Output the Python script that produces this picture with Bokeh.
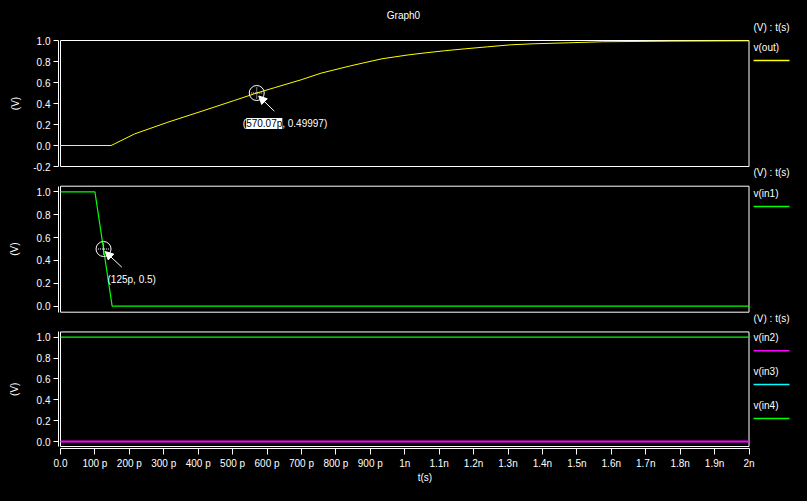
from bokeh.plotting import figure
from bokeh.layouts import column
from bokeh.models import (FixedTicker, Label, Arrow, NormalHead, PrintfTickFormatter,
                          Range1d, LinearAxis)
from bokeh.embed import file_html
from bokeh.resources import INLINE

# ---------------- data (time in ps, voltage in V) ----------------
t_out = [0, 147, 157, 215, 312, 408, 505, 570, 621, 699, 757, 843, 882, 934,
         1013, 1062, 1115, 1176, 1241, 1308, 1376, 1475, 1574, 1776, 2000]
v_out = [0.0, 0.0, 0.016, 0.11, 0.222, 0.324, 0.429, 0.5, 0.55, 0.626, 0.689, 0.759,
         0.788, 0.826, 0.864, 0.883, 0.902, 0.921, 0.94, 0.959, 0.969, 0.978, 0.988, 0.994, 0.997]
t_in1 = [0, 100, 150, 2000]
v_in1 = [1.0, 1.0, 0.0, 0.0]
t_flat = [0, 2000]
v_in2 = [0.0, 0.0]
v_in3 = [0.0, 0.0]
v_in4 = [1.0, 1.0]

x_ticks = [0, 100, 200, 300, 400, 500, 600, 700, 800, 900, 1000,
           1100, 1200, 1300, 1400, 1500, 1600, 1700, 1800, 1900, 2000]
x_tick_labels = ["0.0", "100 p", "200 p", "300 p", "400 p", "500 p", "600 p", "700 p",
                 "800 p", "900 p", "1n", "1.1n", "1.2n", "1.3n", "1.4n", "1.5n", "1.6n",
                 "1.7n", "1.8n", "1.9n", "2n"]
x_min, x_max = 0, 2000
y_ticks_top = [-0.2, 0.0, 0.2, 0.4, 0.6, 0.8, 1.0]
y_ticks = [0.0, 0.2, 0.4, 0.6, 0.8, 1.0]

marker1_x, marker1_y, marker1_text, marker1_hl = 570.07, 0.49997, "(570.07p, 0.49997)", "570.07p"
marker2_x, marker2_y, marker2_text = 125, 0.5, "(125p, 0.5)"

FONT = "Liberation Sans"
FS = "10px"
W = 791
# horizontal geometry (pixels)
FRAME_L = 58
X0_PX = 60.0
X1_PX = 748.5
PPX = (X1_PX - X0_PX) / (x_max - x_min)
X_START = x_min - (X0_PX - FRAME_L) / PPX
X_END = x_max + (W - X1_PX) / PPX
LEG_SX = 753 - FRAME_L


def panel(fig_top, fig_bottom, frame_bottom, px_one, px_zero, box_px, yticks,
          axis_bounds, show_x, v_standoff):
    ppy = px_zero - px_one
    y_start = -(frame_bottom - px_zero) / ppy
    y_end = 1.0 + (px_one - fig_top) / ppy
    p = figure(width=W, height=fig_bottom - fig_top,
               x_range=Range1d(X_START, X_END), y_range=Range1d(y_start, y_end),
               output_backend="svg", toolbar_location=None,
               min_border_left=FRAME_L, min_border_right=0, min_border_top=0,
               min_border_bottom=fig_bottom - frame_bottom,
               x_axis_location="below" if show_x else None,
               background_fill_color="black", border_fill_color="black",
               outline_line_color=None)
    p.grid.visible = False
    ya = p.yaxis[0]
    ya.ticker = FixedTicker(ticks=yticks)
    ya.formatter = PrintfTickFormatter(format="%.1f")
    ya.bounds = axis_bounds
    ya.axis_line_color = "white"
    ya.major_tick_line_color = "white"
    ya.minor_tick_line_color = None
    ya.major_tick_in = 0
    ya.major_tick_out = 5
    ya.major_label_standoff = 3
    ya.major_label_text_color = "white"
    ya.major_label_text_font = FONT
    ya.major_label_text_font_size = FS
    # "(V)" as the single label of an outer, line-less axis
    box_bot = (px_zero - box_px[1]) / ppy
    box_top = (px_zero - box_px[0]) / ppy
    mid = (box_bot + box_top) / 2
    va = LinearAxis(ticker=FixedTicker(ticks=[mid]), major_label_overrides={mid: "(V)"},
                    axis_line_color=None, major_tick_line_color=None,
                    minor_tick_line_color=None, major_tick_in=0, major_tick_out=0,
                    major_label_standoff=v_standoff, major_label_orientation="vertical",
                    major_label_text_color="white", major_label_text_font=FONT,
                    major_label_text_font_size=FS)
    p.add_layout(va, "left")
    # the panel box
    p.quad(left=[x_min], right=[x_max], bottom=[box_bot], top=[box_top],
           fill_color=None, line_color="white", line_width=1)
    if show_x:
        xa = p.xaxis[0]
        xa.ticker = FixedTicker(ticks=x_ticks)
        xa.major_label_overrides = {t: l for t, l in zip(x_ticks, x_tick_labels)}
        xa.bounds = (x_min, x_max)
        xa.axis_line_color = "white"
        xa.major_tick_line_color = "white"
        xa.minor_tick_line_color = None
        xa.major_tick_in = 0
        xa.major_tick_out = 6
        xa.major_label_standoff = 3
        xa.major_label_text_color = "white"
        xa.major_label_text_font = FONT
        xa.major_label_text_font_size = FS
        xa.axis_label = "t(s)"
        xa.axis_label_text_color = "white"
        xa.axis_label_text_font = FONT
        xa.axis_label_text_font_size = FS
        xa.axis_label_text_font_style = "normal"
        xa.axis_label_standoff = 0
    p._ppy = ppy
    p._fb = frame_bottom
    return p


def txt(p, px, py, text, align="left"):
    p.add_layout(Label(x=px - FRAME_L, y=p._fb - py, x_units="screen", y_units="screen",
                       text=text, text_color="white", text_font=FONT, text_font_size=FS,
                       text_align=align, text_baseline="middle"))


def leg_line(p, py, color):
    p.add_layout(Arrow(x_start=LEG_SX, y_start=p._fb - py, x_end=W - FRAME_L - 2,
                       y_end=p._fb - py, start_units="screen", end_units="screen",
                       start=None, end=None, line_color=color, line_width=1.5))


def marker(p, mx, my, text, tdx, tdy, tail, head):
    ppy = p._ppy
    p.scatter([mx], [my], marker="circle", size=15, fill_color=None,
              line_color="white", line_width=1)
    p.scatter([mx], [my], marker="cross", size=11, line_color="white",
              line_width=1, line_dash="1 1")
    p.add_layout(Arrow(x_start=mx + tail[0] / PPX, y_start=my - tail[1] / ppy,
                       x_end=mx + head[0] / PPX, y_end=my - head[1] / ppy,
                       end=NormalHead(size=8, fill_color="white", line_color="white"),
                       line_color="white", line_width=1))
    p.add_layout(Label(x=mx, y=my, x_offset=tdx, y_offset=tdy, text=text,
                       text_color="white", text_font=FONT, text_font_size=FS,
                       text_baseline="middle"))


# ---------------- panel 1 (its canvas also carries panel 2's header) ----------------
p1 = panel(0, 183, 183, 40.0, 145.0, (40.0, 166.0), y_ticks_top, (-0.2, 1.0), False, 10)
p1.line(t_out, v_out, line_color="#ffff00", line_width=1)
marker(p1, marker1_x, marker1_y, marker1_text, -14, -30.5, (17.6, 18.2), (2.0, 3.0))
p1.add_layout(Label(x=marker1_x, y=marker1_y, x_offset=-10.6, y_offset=-30.5,
                    text=marker1_hl, text_color="black", text_font=FONT,
                    text_font_size=FS, text_baseline="middle",
                    background_fill_color="white", padding=0))
txt(p1, 403, 15, "Graph0", align="center")
txt(p1, 753, 27, "(V) : t(s)")
txt(p1, 753, 47, "v(out)")
leg_line(p1, 60, "#ffff00")
txt(p1, 753, 172, "(V) : t(s)")

# ---------------- panel 2 ----------------
p2 = panel(183, 314, 314, 191.3, 305.7, (185.7, 311.7), y_ticks, (-0.052, 1.049), False, 13)
p2.line(t_in1, v_in1, line_color="#00ff00", line_width=1.2)
marker(p2, marker2_x, marker2_y, marker2_text, 4, -30.5, (18.3, 18.2), (1.6, 2.5))
txt(p2, 753, 193, "v(in1)")
leg_line(p2, 206, "#00ff00")

# ---------------- panel 3 ----------------
p3 = panel(314, 485, 450, 337.0, 443.0, (331.7, 448.0), y_ticks, (-0.047, 1.05), True, 13)
p3.line(t_flat, v_in3, line_color="#00ffff", line_width=1)
p3.line(t_flat, v_in2, line_color="#ff00ff", line_width=2)
p3.line(t_flat, v_in4, line_color="#00ff00", line_width=1.2)
txt(p3, 753, 320, "(V) : t(s)")
txt(p3, 753, 339, "v(in2)")
leg_line(p3, 352.3, "#ff00ff")
txt(p3, 753, 373, "v(in3)")
leg_line(p3, 386, "#00ffff")
txt(p3, 753, 407, "v(in4)")
leg_line(p3, 420, "#00ff00")

layout = column(p1, p2, p3, spacing=0)
html = file_html(layout, INLINE)
html = html.replace("</head>", "<style>html,body{background:#000;}</style></head>", 1)
open("out.html", "w").write(html)
